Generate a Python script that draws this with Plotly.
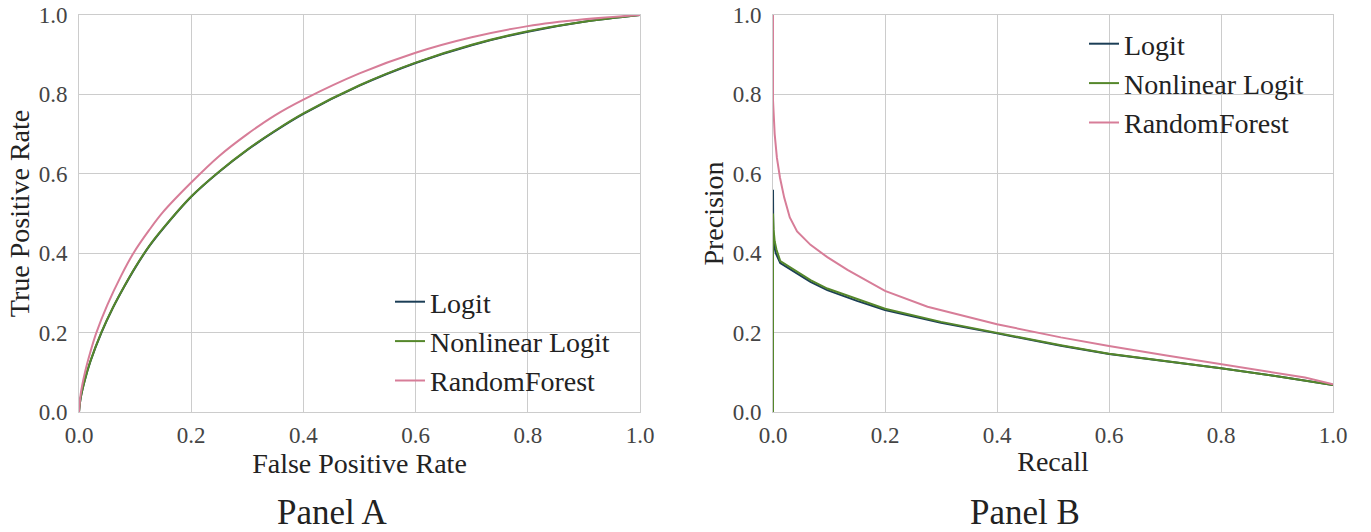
import plotly.graph_objects as go

# ROC data (Panel A)
fpr_logit = [0.0, 0.003, 0.01, 0.02, 0.04, 0.06, 0.08, 0.1, 0.125, 0.15, 0.2, 0.25, 0.3, 0.35, 0.4, 0.5, 0.6, 0.7, 0.8, 0.9, 1.0]
tpr_logit = [0.0, 0.035, 0.078, 0.126, 0.2, 0.261, 0.314, 0.363, 0.417, 0.462, 0.542, 0.605, 0.66, 0.708, 0.751, 0.822, 0.879, 0.924, 0.958, 0.983, 1.0]
tpr_nonlin = [0.0, 0.036, 0.079, 0.127, 0.201, 0.262, 0.315, 0.364, 0.418, 0.463, 0.543, 0.606, 0.661, 0.709, 0.752, 0.823, 0.880, 0.925, 0.959, 0.983, 1.0]
fpr_rf = [0.0, 0.003, 0.01, 0.02, 0.031, 0.05, 0.075, 0.097, 0.125, 0.15, 0.2, 0.25, 0.3, 0.35, 0.4, 0.5, 0.6, 0.7, 0.8, 0.9, 1.0]
tpr_rf = [0.0, 0.045, 0.096, 0.150, 0.2, 0.268, 0.343, 0.4, 0.458, 0.504, 0.578, 0.645, 0.70, 0.748, 0.787, 0.853, 0.905, 0.944, 0.972, 0.989, 1.0]

# Precision-recall data (Panel B)
rec_logit = [0.0, 0.0, 0.0005, 0.002, 0.005, 0.013, 0.037, 0.067, 0.097, 0.15, 0.2, 0.3, 0.4, 0.514, 0.6, 0.7, 0.8, 0.9, 1.0]
prec_logit = [0.0, 0.56, 0.44, 0.42, 0.40, 0.375, 0.354, 0.328, 0.307, 0.28, 0.257, 0.225, 0.198, 0.167, 0.146, 0.128, 0.11, 0.09, 0.068]
rec_nonlin = [0.0, 0.0, 0.001, 0.003, 0.006, 0.013, 0.037, 0.067, 0.097, 0.15, 0.2, 0.3, 0.4, 0.514, 0.6, 0.7, 0.8, 0.9, 1.0]
prec_nonlin = [0.0, 0.50, 0.46, 0.43, 0.41, 0.38, 0.358, 0.332, 0.311, 0.284, 0.26, 0.227, 0.199, 0.168, 0.147, 0.129, 0.11, 0.09, 0.068]
rec_rf = [0.0, 0.0, 0.003, 0.007, 0.0125, 0.02, 0.03, 0.043, 0.067, 0.097, 0.133, 0.2, 0.276, 0.4, 0.514, 0.6, 0.7, 0.8, 0.9, 0.95, 1.0]
prec_rf = [1.0, 0.785, 0.70, 0.64, 0.59, 0.54, 0.49, 0.455, 0.421, 0.39, 0.358, 0.305, 0.265, 0.221, 0.188, 0.166, 0.143, 0.121, 0.098, 0.087, 0.07]

names = ["Logit", "Nonlinear Logit", "RandomForest"]
colors = ["#1b3e56", "#55872b", "#d77d98"]

FONT = "Liberation Serif"
fig = go.Figure()

for name, xs, ys, c in zip(names, [fpr_logit, fpr_logit, fpr_rf], [tpr_logit, tpr_nonlin, tpr_rf], colors):
    fig.add_trace(go.Scatter(x=xs, y=ys, mode="lines", name=name,
                             line=dict(color=c, width=2, shape="spline", smoothing=1.0),
                             xaxis="x", yaxis="y", legend="legend"))
for name, xs, ys, c in zip(names, [rec_logit, rec_nonlin, rec_rf], [prec_logit, prec_nonlin, prec_rf], colors):
    fig.add_trace(go.Scatter(x=xs, y=ys, mode="lines", name=name,
                             line=dict(color=c, width=2),
                             xaxis="x2", yaxis="y2", legend="legend2"))

W, H = 1371, 532
axcommon = dict(range=[0, 1], dtick=0.2, tickformat=".1f", showgrid=True,
                gridcolor="#cccccc", gridwidth=1, zeroline=False,
                showline=True, linecolor="#cccccc", mirror=True,
                ticks="outside", tickcolor="rgba(0,0,0,0)", automargin=False,
                tickfont=dict(family=FONT, size=23, color="#444444"),
                title_font=dict(family=FONT, size=28, color="#222222"))

ydom = [1 - 412 / H, 1 - 15 / H]
legfont = dict(family=FONT, size=28, color="#222222")
fig.update_layout(
    width=W, height=H,
    margin=dict(l=0, r=0, t=0, b=0, autoexpand=False),
    paper_bgcolor="white", plot_bgcolor="white",
    font=dict(family=FONT, color="#222222"),
    xaxis=dict(domain=[79 / W, 640 / W], anchor="y", ticklen=2,
               title=dict(text="False Positive Rate", standoff=4), **axcommon),
    yaxis=dict(domain=ydom, anchor="x", ticklen=6,
               title=dict(text="True Positive Rate", standoff=0), **axcommon),
    xaxis2=dict(domain=[773 / W, 1333 / W], anchor="y2", ticklen=2,
                title=dict(text="Recall", standoff=4), **axcommon),
    yaxis2=dict(domain=ydom, anchor="x2", ticklen=6,
                title=dict(text="Precision", standoff=0), **axcommon),
    legend=dict(x=390 / W, y=1 - 277 / H, xanchor="left", yanchor="top",
                font=legfont, bgcolor="rgba(0,0,0,0)", tracegroupgap=0),
    legend2=dict(x=1084 / W, y=1 - 19 / H, xanchor="left", yanchor="top",
                 font=legfont, bgcolor="rgba(0,0,0,0)", tracegroupgap=0),
    showlegend=True,
    annotations=[
        dict(text="Panel A", x=332 / W, y=1 - 512 / H, xref="paper", yref="paper",
             xanchor="center", yanchor="middle",
             showarrow=False, font=dict(family=FONT, size=35, color="#222222")),
        dict(text="Panel B", x=1025 / W, y=1 - 512 / H, xref="paper", yref="paper",
             xanchor="center", yanchor="middle",
             showarrow=False, font=dict(family=FONT, size=35, color="#222222")),
    ],
)

fig.write_html("out.html")
